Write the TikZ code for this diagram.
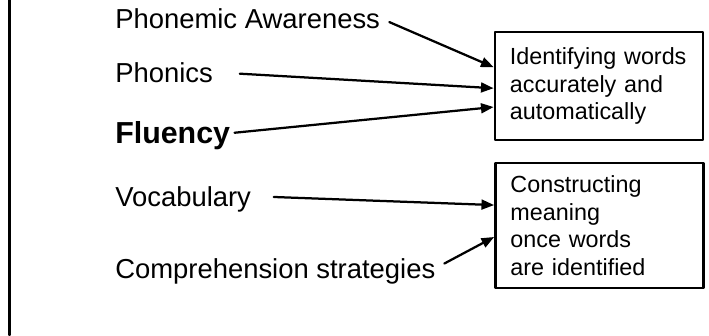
\documentclass[tikz,border=0pt]{standalone}
\usepackage{fontspec}
\setmainfont{Liberation Sans}
\usetikzlibrary{arrows.meta, calc}

\begin{document}
\begin{tikzpicture}[x=0.025cm, y=-0.025cm, line cap=round, line join=round,
		>={Triangle[length=9pt, width=7pt]},
		skill/.style={anchor=base west, inner sep=0pt, text height=14pt, text depth=0pt,
			font=\fontsize{19.5}{23}\selectfont},
		goal/.style={draw, line width=1.9pt, inner sep=0pt, minimum width=5.2cm,
			text width=4.45cm, align=left, font=\fontsize{16.6}{19.6}\selectfont},
		link/.style={->, line width=1.6pt}]
	% Define window bounds (pixels of the sheet)
	\def\xmin{0} \def\xmax{709}
	\def\ymin{0} \def\ymax{335}
	\useasboundingbox (\xmin,\ymin) rectangle (\xmax,\ymax);
	
	% Left margin rule
	\draw[line width=2pt] (9.7,\ymin) -- (9.7,\ymax);
	
	% The five skills on the left
	\node[skill] (pa) at (115,28) {Phonemic Awareness};
	\node[skill] (ph) at (115,82) {Phonics};
	\node[skill, font=\bfseries\fontsize{21.6}{25}\selectfont] (fl) at (115,143) {Fluency};
	\node[skill] (vo) at (115,206) {Vocabulary};
	\node[skill] (cs) at (115,278) {Comprehension strategies};
	
	% The two boxes on the right
	\node[goal, minimum height=2.7cm] (wid) at (599,86)
	{Identifying words\\ accurately and\\ automatically};
	\node[goal, minimum height=3.125cm] (mea) at (599.5,225.5)
	{Constructing\\ meaning\\ once words\\ are identified};
	
	% Arrows into the first box
	\draw[link, shorten <=7pt] (pa.east) -- ($(wid.north west)!0.33!(wid.south west)$);
	\draw[link, shorten <=19pt] (ph.east) -- ($(wid.north west)!0.52!(wid.south west)$);
	\draw[link, shorten <=3pt] (fl.east) -- ($(wid.north west)!0.69!(wid.south west)$);
	
	% Arrows into the second box
	\draw[link, shorten <=16pt] (vo.east) -- ($(mea.north west)!0.34!(mea.south west)$);
	\draw[link, shorten <=7pt] (cs.east) -- ($(mea.north west)!0.59!(mea.south west)$);
\end{tikzpicture}
\end{document}
